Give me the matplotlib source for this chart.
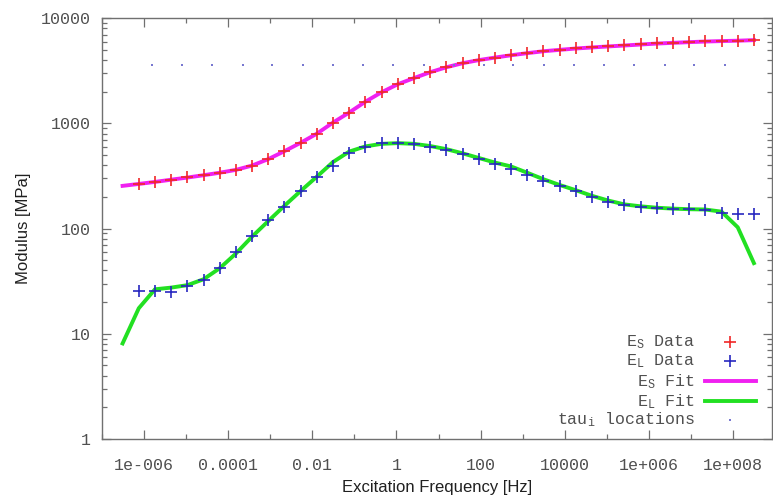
import matplotlib
matplotlib.use("Agg")
import matplotlib.pyplot as plt
from matplotlib.ticker import LogLocator, FixedLocator, NullFormatter, FixedFormatter
from matplotlib.lines import Line2D

# ---------------- data ----------------
freq_data = [7.59e-7, 1.84e-6, 4.46e-6, 1.08e-5, 2.62e-5, 6.34e-5, 1.54e-4, 3.73e-4,
             9.04e-4, 2.19e-3, 5.31e-3, 1.29e-2, 3.12e-2, 7.55e-2, 0.183, 0.444, 1.08,
             2.61, 6.32, 15.3, 37.2, 89.9, 218, 528, 1280, 3100, 7530, 18200, 44300,
             107000, 260000, 630000, 1.53e6, 3.70e6, 8.97e6, 2.17e7, 5.27e7, 1.28e8, 3.10e8]
freq_fit = [3.13e-7] + freq_data

es_data = [264, 278, 293, 308, 324, 340, 360, 395, 455, 545, 650, 796, 1020, 1270, 1615,
           1985, 2365, 2700, 3076, 3434, 3750, 4000, 4236, 4467, 4667, 4874, 5013, 5160,
           5277, 5393, 5512, 5634, 5758, 5846, 5937, 6018, 6068, 6112, 6205]
el_data = [25.7, 25.6, 25.2, 28.5, 32.5, 42.3, 60.4, 85.2, 121, 162, 230, 308, 395, 522,
           595, 650, 650, 640, 595, 555, 510, 457, 413, 368, 322, 286, 255, 230, 202, 181,
           168, 162, 156, 153, 153, 151, 142, 139, 137]
es_fit = [255, 266, 278, 292, 306, 322, 340, 362, 398, 458, 545, 655, 800, 1020, 1270, 1610,
          1980, 2360, 2700, 3070, 3420, 3740, 4000, 4230, 4450, 4660, 4860, 5010, 5160, 5280,
          5400, 5510, 5630, 5750, 5840, 5930, 6010, 6070, 6120, 6200]
el_fit = [8.1, 17.5, 26.5, 27.5, 29, 33, 42, 58, 84, 118, 165, 228, 312, 430, 540, 605, 640,
          650, 640, 610, 570, 520, 470, 425, 390, 340, 295, 260, 232, 205, 185, 170, 163, 158,
          155, 153, 152, 145, 103, 47]
tau_freq = [1.55e-6, 8.0e-6, 4.12e-5, 2.25e-4, 1.10e-3, 5.98e-3, 3.08e-2, 0.159, 0.82, 4.48,
            23.1, 119, 582, 3170, 16400, 84400, 4.36e5, 2.37e6, 1.16e7, 6.3e7]
tau_val = [3600] * len(tau_freq)

xtick_vals = [1e-6, 1e-4, 1e-2, 1, 1e2, 1e4, 1e6, 1e8]
xtick_labels = ["1e-006", "0.0001", "0.01", "1", "100", "10000", "1e+006", "1e+008"]
xminor_vals = [1e-7, 1e-5, 1e-3, 1e-1, 1e1, 1e3, 1e5, 1e7]
ytick_vals = [1, 10, 100, 1000, 10000]
ytick_labels = ["1", "10", "100", "1000", "10000"]

legend_labels = [r"E$_\mathrm{S}$ Data", r"E$_\mathrm{L}$ Data", r"E$_\mathrm{S}$ Fit",
                 r"E$_\mathrm{L}$ Fit", r"tau$_\mathrm{i}$ locations"]

# ---------------- style ----------------
mono = "Liberation Mono"
plt.rcParams["mathtext.fontset"] = "custom"
plt.rcParams["mathtext.rm"] = mono
plt.rcParams["mathtext.it"] = mono
plt.rcParams["mathtext.bf"] = mono

c_es_data = "#f02828"
c_el_data = "#2828c0"
c_es_fit = "#f020f0"
c_el_fit = "#22e022"
c_tau = "#7878d0"
c_axis = "#707070"
c_text = "#505050"

fig = plt.figure(figsize=(7.73, 4.98), dpi=100)
ax = fig.add_axes([0.1316, 0.1185, 0.8665, 0.8448])

ax.plot(freq_fit, es_fit, color=c_es_fit, lw=2.8, zorder=2, solid_joinstyle="round")
ax.plot(freq_fit, el_fit, color=c_el_fit, lw=2.8, zorder=2, solid_joinstyle="round")
ax.plot(freq_data, es_data, ls="none", marker="+", ms=8, mew=1.2, color=c_es_data, zorder=3)
ax.plot(freq_data, el_data, ls="none", marker="+", ms=8, mew=1.2, color=c_el_data, zorder=3)
ax.plot(tau_freq, tau_val, ls="none", marker="s", ms=1.6, mew=0, color=c_tau, zorder=3)

ax.set_xscale("log")
ax.set_yscale("log")
ax.set_xlim(1e-7, 10 ** 8.91)
ax.set_ylim(1, 10000)

ax.xaxis.set_major_locator(FixedLocator(xtick_vals))
ax.xaxis.set_major_formatter(FixedFormatter(xtick_labels))
ax.xaxis.set_minor_locator(FixedLocator(xminor_vals))
ax.xaxis.set_minor_formatter(NullFormatter())
ax.yaxis.set_major_locator(FixedLocator(ytick_vals))
ax.yaxis.set_major_formatter(FixedFormatter(ytick_labels))
ax.yaxis.set_minor_locator(LogLocator(base=10, subs=range(2, 10), numticks=20))
ax.yaxis.set_minor_formatter(NullFormatter())

ax.tick_params(which="both", direction="in", top=True, right=True, color=c_axis, width=0.9)
ax.tick_params(which="major", length=6.5)
ax.tick_params(which="minor", length=3.5)
ax.tick_params(axis="x", which="major", pad=14)
ax.tick_params(axis="y", which="major", pad=8)
for lab in ax.get_xticklabels() + ax.get_yticklabels():
    lab.set_fontfamily(mono)
    lab.set_fontsize(12)
    lab.set_color(c_text)
for sp in ax.spines.values():
    sp.set_color(c_axis)
    sp.set_linewidth(1.0)

ax.set_xlabel("Excitation Frequency [Hz]", fontsize=12,
              family=["Liberation Sans Narrow", "Liberation Sans"], color="#202020", labelpad=5)
ax.set_ylabel("Modulus [MPa]", fontsize=12,
              family=["Liberation Sans Narrow", "Liberation Sans"], color="#202020", labelpad=7)

# ---------------- legend (gnuplot style: right-aligned text, sample to the right) ----------------
leg_y = [0.2313, 0.1842, 0.1367, 0.0899, 0.0452]
text_x = 0.8858
for lab, yy in zip(legend_labels, leg_y):
    ax.text(text_x, yy, lab, transform=ax.transAxes, ha="right", va="center",
            family=mono, fontsize=12, color=c_text)
mx = 0.938
ax.add_line(Line2D([mx], [leg_y[0]], transform=ax.transAxes, ls="none", marker="+",
                   ms=8, mew=1.2, color=c_es_data))
ax.add_line(Line2D([mx], [leg_y[1]], transform=ax.transAxes, ls="none", marker="+",
                   ms=8, mew=1.2, color=c_el_data))
ax.add_line(Line2D([0.9007, 0.9769], [leg_y[2]] * 2, transform=ax.transAxes,
                   color=c_es_fit, lw=2.8))
ax.add_line(Line2D([0.9007, 0.9769], [leg_y[3]] * 2, transform=ax.transAxes,
                   color=c_el_fit, lw=2.8))
ax.add_line(Line2D([mx], [leg_y[4]], transform=ax.transAxes, ls="none", marker="s",
                   ms=1.6, mew=0, color=c_tau))

fig.savefig("out.png", dpi=100)
